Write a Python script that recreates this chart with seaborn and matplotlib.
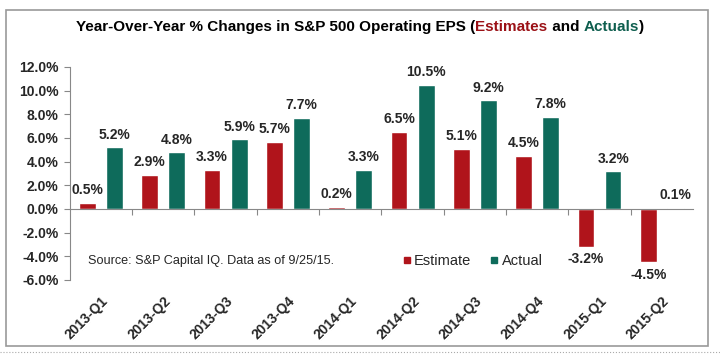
import pandas as pd
import matplotlib.pyplot as plt
import seaborn as sns
from matplotlib.patches import Rectangle
from matplotlib.lines import Line2D
from matplotlib.offsetbox import TextArea, HPacker, AnchoredOffsetbox

# data
quarters = ['2013-Q1', '2013-Q2', '2013-Q3', '2013-Q4', '2014-Q1',
            '2014-Q2', '2014-Q3', '2014-Q4', '2015-Q1', '2015-Q2']
estimate = [0.5, 2.9, 3.3, 5.7, 0.2, 6.5, 5.1, 4.5, -3.2, -4.5]
actual = [5.2, 4.8, 5.9, 7.7, 3.3, 10.5, 9.2, 7.8, 3.2, 0.1]
yticks = [-6, -4, -2, 0, 2, 4, 6, 8, 10, 12]

red = '#B0141B'
teal = '#0E6B5B'

df = pd.DataFrame({
    'quarter': quarters * 2,
    'value': estimate + actual,
    'type': ['Estimate'] * len(quarters) + ['Actual'] * len(quarters),
})

sns.set_style('white')
plt.rcParams['font.family'] = ['Liberation Sans', 'DejaVu Sans']

fig = plt.figure(figsize=(7.2, 3.56), dpi=100)
ax = fig.add_axes([0.097, 0.2135, 0.8655, 0.5985])

sns.barplot(data=df, x='quarter', y='value', hue='type',
            palette={'Estimate': red, 'Actual': teal},
            width=0.87, gap=0.38, saturation=1, ax=ax, legend=False)

for cont in ax.containers:
    ax.bar_label(cont, fmt='%.1f%%', padding=4, fontsize=10, fontweight='bold')

ax.set_ylim(-6, 12)
ax.set_xlim(-0.5, 9.5)
ax.set_yticks(yticks)
ax.set_yticklabels([f'{v:.1f}%' for v in yticks], fontsize=10, fontweight='bold')
ax.set_xlabel('')
ax.set_ylabel('')

# spines
for s in ['top', 'right']:
    ax.spines[s].set_visible(False)
ax.spines['left'].set_color('#888888')
ax.spines['bottom'].set_color('#888888')
ax.spines['bottom'].set_position(('data', 0))
ax.tick_params(axis='y', length=4, color='#888888', left=True, pad=4)
ax.set_xticks([i + 0.5 for i in range(len(quarters) - 1)])
ax.set_xticklabels([])
ax.tick_params(axis='x', length=4, color='#888888', bottom=True, direction='out')

# x labels on a secondary axis at the bottom
sec = ax.secondary_xaxis('bottom')
sec.set_xticks(range(len(quarters)))
sec.set_xticklabels(quarters, rotation=45, ha='right', rotation_mode='anchor',
                    fontsize=10, fontweight='bold')
sec.tick_params(length=0, pad=10)
sec.spines['bottom'].set_visible(False)

# legend
handles = [Line2D([], [], marker='s', ls='', color=red, markersize=5),
           Line2D([], [], marker='s', ls='', color=teal, markersize=5)]
ax.legend(handles, ['Estimate', 'Actual'], loc='center',
          bbox_to_anchor=(0.645, 0.09), ncol=2, frameon=False,
          handletextpad=0.1, columnspacing=1.2, handlelength=0.8,
          prop={'size': 10.5})

ax.text(0.029, 0.09, 'Source: S&P Capital IQ. Data as of 9/25/15.',
        transform=ax.transAxes, fontsize=9.1, va='center', ha='left')

# title with coloured words
parts = [('Year-Over-Year % Changes in S&P 500 Operating EPS (', 'black'),
         ('Estimates', '#9B1116'), (' and ', 'black'),
         ('Actuals', '#0E5E4E'), (')', 'black')]
boxes = [TextArea(t, textprops=dict(color=c, fontsize=11, fontweight='bold',
                                    family=['Liberation Sans Narrow', 'Liberation Sans']))
         for t, c in parts]
pack = HPacker(children=boxes, align='baseline', pad=0, sep=0)
title = AnchoredOffsetbox(loc='center', child=pack, frameon=False,
                          bbox_to_anchor=(0.5, 0.925), bbox_transform=fig.transFigure)
fig.add_artist(title)

# outer frame and dotted line
fig.add_artist(Rectangle((0.009, 0.028), 0.974, 0.944, transform=fig.transFigure,
                         fill=False, edgecolor='#999999', lw=1.2))
fig.add_artist(Line2D([0.0, 1.0], [0.01, 0.01], transform=fig.transFigure,
                      color='#aaaaaa', lw=0.8, ls=':'))

fig.savefig('out.png', dpi=100)
